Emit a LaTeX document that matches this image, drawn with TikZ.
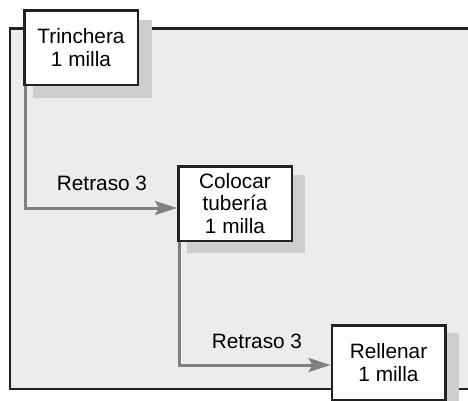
\documentclass[tikz,border=0pt]{standalone}
\usepackage{fontspec}
\setmainfont{Liberation Sans}
\usetikzlibrary{arrows.meta,backgrounds}
\definecolor{framefill}{HTML}{ECECEC}
\definecolor{shadowgray}{HTML}{CDCDCD}
\definecolor{linkgray}{HTML}{808080}
\definecolor{inkdark}{HTML}{222222}
\tikzset{
  taskbox/.style={draw=inkdark, line width=2.5pt, fill=white, minimum width=113.5pt, minimum height=74.5pt, inner sep=0pt, align=center, font=\fontsize{20.8pt}{22.3pt}\selectfont, text=black},
  link/.style={draw=linkgray, line width=3pt, -{Stealth[length=22pt, width=14pt, inset=4pt]}},
  lag/.style={font=\fontsize{20.8pt}{22.3pt}\selectfont, inner sep=0pt, anchor=base},
  boxshadow/.style={fill=shadowgray}
}
\begin{document}
\begin{tikzpicture}[x=1pt, y=-1pt]
\useasboundingbox (0,0) rectangle (468,400);
\clip (0,0) rectangle (468,400);
% nodes
\node[taskbox] (t) at (81,47.5) {Trinchera\\1 milla};
\node[taskbox] (c) at (235,203.5) {Colocar\\tubería\\1 milla};
\node[taskbox] (r) at (388.5,362.5) {Rellenar\\1 milla};
\begin{scope}[on background layer]
  % frame
  \filldraw[fill=framefill, draw=inkdark, line width=2.5pt] (10,28.5) rectangle (490,389);
  % shadows
  \fill[boxshadow] ([shift={(10,11)}]t.north west) rectangle ([shift={(13,12)}]t.south east);
  \fill[boxshadow] ([shift={(10,10)}]c.north west) rectangle ([shift={(12,11)}]c.south east);
  \fill[boxshadow] ([shift={(10,9)}]r.north west) rectangle ([shift={(12,11)}]r.south east);
\end{scope}
% connectors
\coordinate (bend1) at (25.5,208);
\coordinate (bend2) at (179.5,365);
\draw[link] ([xshift=-55.5pt]t.south) -- (bend1) -- (c.west |- bend1);
\draw[link] ([xshift=-55.5pt]c.south) -- (bend2) -- (r.west |- bend2);
% labels
\node[lag] (l1) at (102,190.5) {Retraso 3};
\node[lag] (l2) at (257,348) {Retraso 3};
\end{tikzpicture}
\end{document}
